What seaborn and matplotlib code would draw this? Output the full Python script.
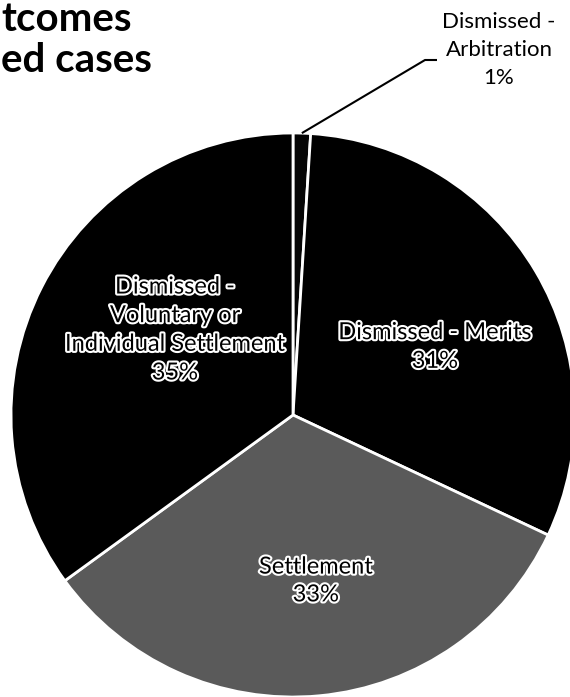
import numpy as np
import matplotlib
matplotlib.use("Agg")
import matplotlib.pyplot as plt
import matplotlib.patheffects as pe
import seaborn as sns

# ---- data ----
categories = ["Dismissed -\nArbitration", "Dismissed - Merits", "Settlement",
              "Dismissed -\nVoluntary or\nIndividual Settlement"]
shares = [1, 31, 33, 35]
pct_labels = ["1%", "31%", "33%", "35%"]
title_lines = ["tcomes", "ed cases"]

sns.set_theme(style="white")
plt.rcParams["font.family"] = ["Lato", "DejaVu Sans"]

colors = ["#050505", "#000000", "#5a5a5a", "#000000"]

W, H = 570, 697
fig = plt.figure(figsize=(W / 100, H / 100), dpi=100)
ax = fig.add_axes([0, 0, 1, 1])
cx, cy, R = 293, 415, 282

wedges, _ = ax.pie(shares, colors=colors, startangle=90, counterclock=False,
                   radius=1.0, center=(0, 0),
                   wedgeprops=dict(edgecolor="white", linewidth=2))
ax.set_xlim(-cx / R, (W - cx) / R)
ax.set_ylim(-(H - cy) / R, cy / R)
ax.set_aspect("equal", adjustable="datalim")
ax.axis("off")

def d(px, py):
    return ((px - cx) / R, (cy - py) / R)

stroke = [pe.withStroke(linewidth=3, foreground="white")]

# slice labels
x, y = d(175, 330)
ax.text(x, y, categories[3] + "\n" + pct_labels[3], ha="center", va="center",
        fontsize=17, color="black", linespacing=1.45, path_effects=stroke)
x, y = d(435, 347)
ax.text(x, y, categories[1] + "\n" + pct_labels[1], ha="center", va="center",
        fontsize=17, color="black", linespacing=1.45, path_effects=stroke)
x, y = d(316, 581)
ax.text(x, y, categories[2] + "\n" + pct_labels[2], ha="center", va="center",
        fontsize=17, color="black", linespacing=1.4, path_effects=stroke)

# callout for the thin slice
w0 = wedges[0]
mid = np.deg2rad((w0.theta1 + w0.theta2) / 2)
sx, sy = np.cos(mid), np.sin(mid)
kx, ky = d(425, 60)
ex, ey = d(437, 60)
ax.plot([sx, kx, ex], [sy, ky, ey], color="black", lw=1.5, solid_capstyle="butt")
x, y = d(499, 50)
ax.text(x, y, categories[0] + "\n" + pct_labels[0], ha="center", va="center",
        fontsize=16, color="black", linespacing=1.5)

# title fragments (the reference shows only the right end of the title)
fig.text(1 / W, 1 - 1 / H, "\n".join(title_lines), ha="left", va="top",
         fontsize=29, fontweight="bold", color="black", linespacing=1.15)

fig.savefig("out.png", dpi=100, facecolor="white")
